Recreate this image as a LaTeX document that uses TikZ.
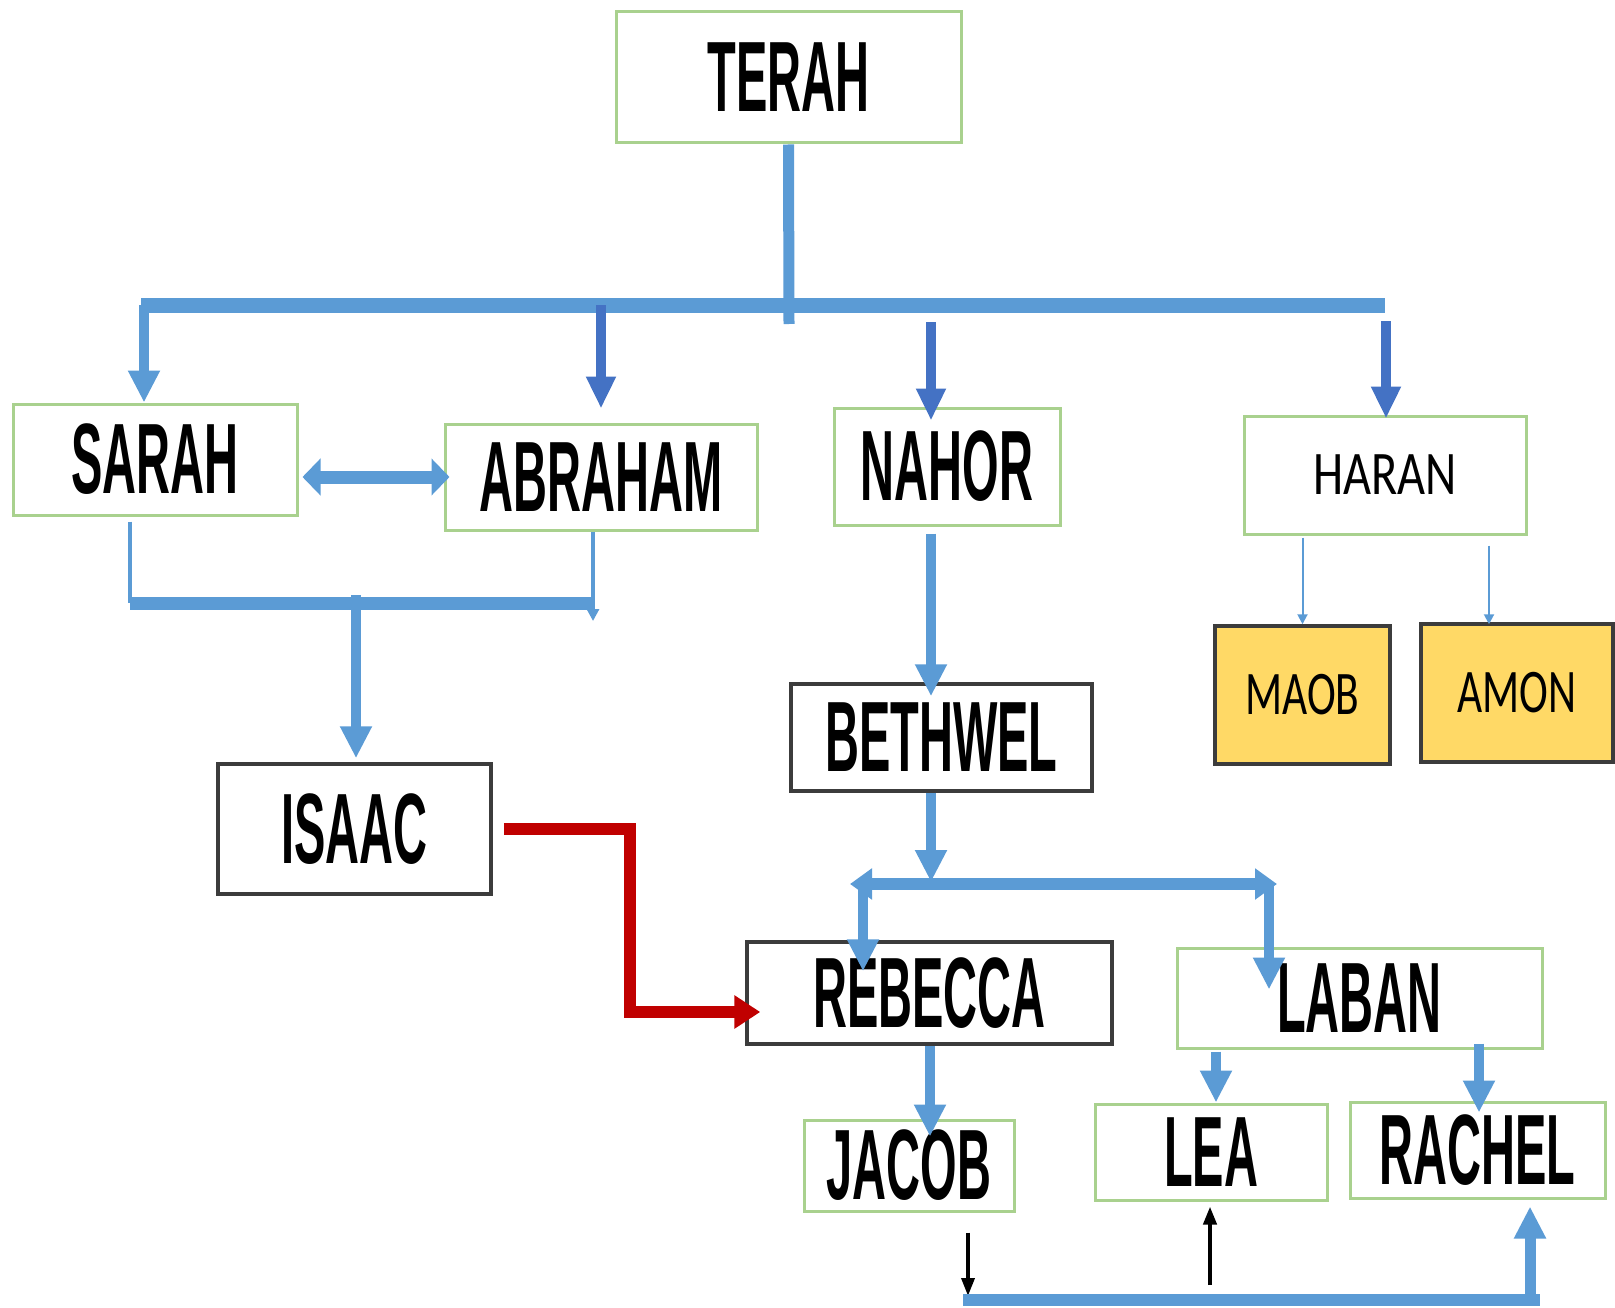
\documentclass[tikz,border=0pt]{standalone}
\usepackage{fontspec}
\usepackage{graphicx}
\usepackage{tikz}
\usetikzlibrary{arrows.meta}
\setmainfont{Liberation Sans}
\newfontfamily\calibrifont{Carlito}

\definecolor{linkblue}{RGB}{91,155,213}
\definecolor{deepblue}{RGB}{68,114,196}
\definecolor{boxgreen}{RGB}{169,209,142}
\definecolor{boxgray}{RGB}{60,60,60}
\definecolor{oldgold}{RGB}{255,217,102}
\definecolor{redline}{RGB}{192,0,0}

\newcommand{\narrowname}[1]{\scalebox{0.47}[1]{\fontsize{100}{100}\selectfont\bfseries #1}}
\newcommand{\plainname}[2]{\scalebox{#1}[1]{\calibrifont\fontsize{62}{62}\selectfont #2}}

\begin{document}
\begin{tikzpicture}[x=1pt,y=1pt,yscale=-1,xscale=1,
  greenbox/.style={draw=boxgreen,line width=3pt,fill=white,inner sep=0pt},
  graybox/.style={draw=boxgray,line width=3.5pt,fill=white,inner sep=0pt},
  goldbox/.style={draw=boxgray,line width=3.5pt,fill=oldgold,inner sep=0pt},
  link/.style={draw=linkblue,line width=10pt,-{Triangle[width=30pt,length=32pt]}},
  deeplink/.style={draw=deepblue,line width=10pt,-{Triangle[width=28pt,length=32pt]}},
  thinlink/.style={draw=linkblue,line width=2pt,-{Triangle[width=10pt,length=10pt]}},
  bus/.style={draw=linkblue,line width=15pt},
  blacklink/.style={draw=black,line width=4pt,-{Triangle[width=13pt,length=18pt]}}]
\useasboundingbox (0,0) rectangle (1615,1308);

% Text Node
\node (terah) at (788.5,77.5) [greenbox,minimum width=345pt,minimum height=131pt] {\narrowname{TERAH}};
\node (sarah) at (155,459.5) [greenbox,minimum width=284pt,minimum height=111pt] {\narrowname{SARAH}};
\node (abraham) at (601,477) [greenbox,minimum width=312pt,minimum height=106pt] {\narrowname{ABRAHAM}};
\node (nahor) at (947,466.5) [greenbox,minimum width=226pt,minimum height=117pt] {\narrowname{NAHOR}};
\node (haran) at (1385,475) [greenbox,minimum width=282pt,minimum height=118pt] {\plainname{0.78}{HARAN}};
\node (maob) at (1302.5,695) [goldbox,minimum width=175pt,minimum height=138pt] {\plainname{0.7}{MAOB}};
\node (amon) at (1517,693) [goldbox,minimum width=192pt,minimum height=138pt] {\plainname{0.7}{AMON}};
\node (bethwel) at (941.5,737.5) [graybox,minimum width=301pt,minimum height=107pt] {\narrowname{BETHWEL}};
\node (isaac) at (354.5,829) [graybox,minimum width=273pt,minimum height=130pt] {\narrowname{ISAAC}};
\node (rebecca) at (929.5,993) [graybox,minimum width=365pt,minimum height=102pt] {\narrowname{REBECCA}};
\node (laban) at (1359.5,998) [greenbox,minimum width=365pt,minimum height=100pt] {\narrowname{LABAN}};
\node (jacob) at (909,1165.5) [greenbox,minimum width=210pt,minimum height=91pt] {\narrowname{JACOB}};
\node (lea) at (1211,1152) [greenbox,minimum width=232pt,minimum height=96pt] {\narrowname{LEA}};
\node (rachel) at (1477.5,1150) [greenbox,minimum width=255pt,minimum height=96pt] {\narrowname{RACHEL}};

% Junctions
\coordinate (stemend) at (789,324);
\coordinate (busL) at (141,305);
\coordinate (busR) at (1385,305);
\coordinate (nahortop) at (931,322);
\coordinate (harantop) at (1386,321);
\coordinate (coupleL) at (130,603);
\coordinate (coupleR) at (593,603);
\coordinate (isaactop) at (356,603);
\coordinate (sibL) at (850,884);
\coordinate (sibR) at (1277,884);
\coordinate (redA) at (630,829);
\coordinate (redB) at (630,1012);
\coordinate (jacobend) at (968,1296);
\coordinate (wedL) at (963,1300);
\coordinate (wedR) at (1540,1300);

%Straight Lines
\draw [draw=linkblue,line width=11pt] (terah.south) -- (stemend);
\draw [bus] (busL) -- (busR);
\draw [link] ([xshift=3pt]busL) -- ([xshift=3pt]busL |- sarah.north);
\draw [deeplink] (abraham.north |- busL) -- ([yshift=-14pt]abraham.north);
\draw [deeplink] (nahortop) -- ([yshift=14pt]nahortop |- nahor.north);
\draw [deeplink] (harantop) -- ([yshift=4pt]harantop |- haran.north);
\draw [draw=linkblue,line width=13pt,{Triangle[width=36pt,length=18pt]}-{Triangle[width=36pt,length=18pt]}] ([xshift=4pt]sarah.east |- abraham.west) -- ([xshift=6pt]abraham.west);

%Straight Lines
\draw [draw=linkblue,line width=4pt] ([yshift=5pt]coupleL |- sarah.south) -- (coupleL);
\draw [draw=linkblue,line width=4pt,-{Triangle[width=12pt,length=12pt]}] (coupleR |- abraham.south) -- ([yshift=18pt]coupleR);
\draw [draw=linkblue,line width=13pt] (coupleL) -- (coupleR);
\draw [link] ([yshift=-8pt]isaactop) -- ([yshift=-4pt]isaac.north -| isaactop);

%Straight Lines
\draw [thinlink] ([yshift=2pt]haran.south -| maob.north) -- (maob.north);
\draw [thinlink] ([yshift=10pt]haran.south -| 1489,0) -- (maob.north -| 1489,0);

%Straight Lines
\draw [link] (nahor.south -| nahortop) ++(0,7) -- ([yshift=14pt]bethwel.north -| nahortop);
\draw [link] (bethwel.south -| nahortop) -- ([yshift=-2pt]sibL -| nahortop);
\draw [draw=linkblue,line width=12pt,{Triangle[width=30pt,length=22pt]}-{Triangle[width=30pt,length=22pt]}] (sibL) -- (sibR);
\draw [link] ([xshift=13pt]sibL) -- ([xshift=13pt,yshift=31pt]sibL |- rebecca.north);
\draw [link] ([xshift=-8pt]sibR) -- ([xshift=-8pt,yshift=43pt]sibR |- laban.north);

%Straight Lines
\draw [draw=redline,line width=12pt,-{Triangle[width=32pt,length=26pt]}] ([xshift=11pt]isaac.east) -- (redA) -- (redB) -- ([xshift=15pt]redB -| rebecca.west);

%Straight Lines
\draw [link] (rebecca.south -| 930,0) -- ([yshift=18pt]jacob.north -| 930,0);
\draw [link] ([yshift=2pt]laban.south -| 1216,0) -- (lea.north -| 1216,0);
\draw [link] ([yshift=-6pt]laban.south -| 1479,0) -- ([yshift=12pt]rachel.north -| 1479,0);

%Straight Lines
\draw [blacklink,line width=3.5pt] ([yshift=20pt]jacob.south -| jacobend) -- (jacobend);
\draw [draw=linkblue,line width=12pt] (wedL) -- (wedR);
\draw [blacklink] ([yshift=-15pt]wedL -| 1210,0) -- ([yshift=5pt]lea.south -| 1210,0);
\draw [link,line width=11pt] ([xshift=-10pt]wedR) -- ([xshift=-10pt,yshift=7pt]rachel.south -| wedR);
\end{tikzpicture}
\end{document}
